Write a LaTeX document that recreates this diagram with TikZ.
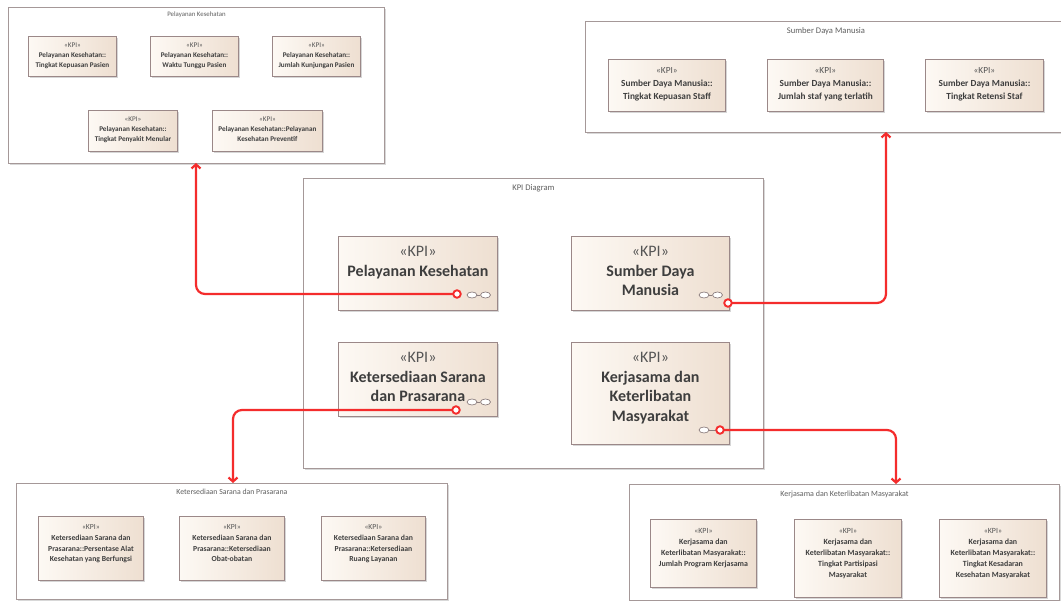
\documentclass[tikz,border=0pt]{standalone}
\usepackage{fontspec}
\setmainfont{Carlito}
\usetikzlibrary{shadows,arrows.meta,shapes.geometric}

\definecolor{framecol}{RGB}{165,152,152}
\definecolor{boxcol}{RGB}{155,136,136}
\definecolor{boxlight}{RGB}{253,249,244}
\definecolor{boxdark}{RGB}{238,223,209}
\definecolor{linkred}{RGB}{244,44,44}
\definecolor{titlegray}{RGB}{95,95,95}
\definecolor{textdark}{RGB}{62,62,62}
\definecolor{stereogray}{RGB}{85,85,85}
\definecolor{portgray}{RGB}{140,126,126}

\newcommand{\stereo}{{\mdseries\color{stereogray}«KPI»}}

\tikzset{
  areaframe/.style={draw=framecol, line width=0.9pt, fill=white, anchor=north west,
    inner sep=0pt, drop shadow={shadow xshift=1.5pt, shadow yshift=-1.5pt, fill=black!30, opacity=.5}},
  areatitle/.style={inner sep=0pt, text=titlegray},
  kbox/.style={draw=boxcol, line width=0.9pt, left color=boxlight, right color=boxdark,
    anchor=north west, inner sep=0pt,
    drop shadow={shadow xshift=2pt, shadow yshift=-2pt, fill=black!35, opacity=.45}},
  ktext/.style={anchor=north, inner sep=0pt, align=center, text=textdark},
  maintext/.style={ktext, yshift=-10.5pt, font=\fontsize{16}{19.5}\selectfont\bfseries},
  pktext/.style={ktext, yshift=-7pt, font=\fontsize{7.2}{9.7}\selectfont\bfseries},
  sdmtext/.style={ktext, yshift=-8pt, font=\fontsize{9.3}{13}\selectfont\bfseries},
  ksptext/.style={ktext, yshift=-8.5pt, font=\fontsize{7.7}{10.7}\selectfont\bfseries},
  kkmtext/.style={ktext, yshift=-9pt, font=\fontsize{7.9}{11}\selectfont\bfseries},
  portring/.style={ellipse, draw=portgray, line width=0.7pt, fill=white,
    minimum width=10pt, minimum height=6pt, inner sep=0pt},
  redport/.style={circle, draw=linkred, line width=1.9pt, fill=white,
    minimum size=7.5pt, inner sep=0pt},
  link/.style={draw=linkred, line width=2.2pt, rounded corners=9pt,
    -{Straight Barb[length=4pt, width=9pt]}},
}

% area frame: name, x0, y0, x1, y1, title, title size, title offset
\newcommand{\Area}[8]{%
  \node[areaframe, minimum width={(#4-#2)*1pt}, minimum height={(#5-#3)*1pt}] (#1) at (#2,#3) {};
  \node[areatitle, font=\fontsize{#7}{#7}\selectfont] (#1-title) at ([yshift=-#8pt]#1.north) {#6};
}
% KPI element: name, x0, y0, x1, y1, text style, text
\newcommand{\Kpi}[7]{%
  \node[kbox, minimum width={(#4-#2)*1pt}, minimum height={(#5-#3)*1pt}] (#1) at (#2,#3) {};
  \node[#6] (#1-t) at (#1.north) {#7};
}

\begin{document}
\begin{tikzpicture}[x=1pt, y=-1pt]
  \useasboundingbox (0,0) rectangle (1061,601);
  \fill[white] (0,0) rectangle (1061,601);
  \clip (0,0) rectangle (1061,601);

  % package frames
  \Area{pkArea}{8}{7}{384}{163}{Pelayanan Kesehatan}{6.8}{8}
  \Area{sdmArea}{585}{21}{1066}{132}{Sumber Daya Manusia}{8.6}{10}
  \Area{kpiArea}{303}{178}{763}{468}{KPI Diagram}{8.6}{10}
  \Area{kspArea}{16}{483}{447}{599}{Ketersediaan Sarana dan Prasarana}{7.8}{9}
  \Area{kkmArea}{629}{484}{1059}{600}{Kerjasama dan Keterlibatan Masyarakat}{8}{10}

  % Pelayanan Kesehatan
  \Kpi{pk1}{28}{36}{116}{76}{pktext}{\stereo\\Pelayanan Kesehatan::\\Tingkat Kepuasan Pasien}
  \Kpi{pk2}{150}{36}{238}{76}{pktext}{\stereo\\Pelayanan Kesehatan::\\Waktu Tunggu Pasien}
  \Kpi{pk3}{272}{36}{360}{76}{pktext}{\stereo\\Pelayanan Kesehatan::\\Jumlah Kunjungan Pasien}
  \Kpi{pk4}{88}{110}{177}{151}{pktext}{\stereo\\Pelayanan Kesehatan::\\Tingkat Penyakit Menular}
  \Kpi{pk5}{212}{110}{322}{151}{pktext}{\stereo\\Pelayanan Kesehatan::Pelayanan\\Kesehatan Preventif}

  % Sumber Daya Manusia
  \Kpi{sdm1}{608}{59}{725}{111}{sdmtext}{\stereo\\Sumber Daya Manusia::\\Tingkat Kepuasan Staff}
  \Kpi{sdm2}{767}{59}{883}{111}{sdmtext}{\stereo\\Sumber Daya Manusia::\\Jumlah staf yang terlatih}
  \Kpi{sdm3}{925}{59}{1043}{111}{sdmtext}{\stereo\\Sumber Daya Manusia::\\Tingkat Retensi Staf}

  % Ketersediaan Sarana dan Prasarana
  \Kpi{ksp1}{38}{516}{143}{580}{ksptext}{\stereo\\Ketersediaan Sarana dan\\Prasarana::Persentase Alat\\Kesehatan yang Berfungsi}
  \Kpi{ksp2}{179}{516}{284}{580}{ksptext}{\stereo\\Ketersediaan Sarana dan\\Prasarana::Ketersediaan\\Obat-obatan}
  \Kpi{ksp3}{321}{516}{425}{580}{ksptext}{\stereo\\Ketersediaan Sarana dan\\Prasarana::Ketersediaan\\Ruang Layanan}

  % Kerjasama dan Keterlibatan Masyarakat
  \Kpi{kkm1}{650}{519}{756}{587}{kkmtext}{\stereo\\Kerjasama dan\\Keterlibatan Masyarakat::\\Jumlah Program Kerjasama}
  \Kpi{kkm2}{794}{519}{901}{597}{kkmtext}{\stereo\\Kerjasama dan\\Keterlibatan Masyarakat::\\Tingkat Partisipasi\\Masyarakat}
  \Kpi{kkm3}{939}{519}{1046}{597}{kkmtext}{\stereo\\Kerjasama dan\\Keterlibatan Masyarakat::\\Tingkat Kesadaran\\Kesehatan Masyarakat}

  % KPI Diagram: top level elements
  \Kpi{pk}{338}{236}{497}{310}{maintext}{\stereo\\Pelayanan Kesehatan}
  \Kpi{sdm}{571}{236}{729}{310}{maintext}{\stereo\\Sumber Daya\\Manusia}
  \Kpi{ksp}{338}{342}{497}{416}{maintext}{\stereo\\Ketersediaan Sarana\\dan Prasarana}
  \Kpi{kkm}{571}{342}{729}{444}{maintext}{\stereo\\Kerjasama dan\\Keterlibatan\\Masyarakat}

  % composite markers
  \node[portring] (pk-r1) at (472,295) {};
  \node[portring] (pk-r2) at (485.5,295) {};
  \draw[portgray, line width=0.7pt] (pk-r1.east) -- (pk-r2.west);
  \node[portring] (sdm-r1) at (704,295) {};
  \node[portring] (sdm-r2) at (717.5,295) {};
  \draw[portgray, line width=0.7pt] (sdm-r1.east) -- (sdm-r2.west);
  \node[portring] (ksp-r1) at (472,402) {};
  \node[portring] (ksp-r2) at (485.5,402) {};
  \draw[portgray, line width=0.7pt] (ksp-r1.east) -- (ksp-r2.west);
  \node[portring] (kkm-r1) at (704,430) {};

  % link end points on the frames
  \coordinate (pkin) at (196,163);
  \coordinate (sdmin) at (886,132);
  \coordinate (kspin) at (233,483);
  \coordinate (kkmin) at (896,484);

  % links
  \draw[link] (457,294) coordinate (pkstart) -| (pkin);
  \draw[link] (728,303) coordinate (sdmstart) -| (sdmin);
  \draw[link] (456,410) coordinate (kspstart) -| (kspin);
  \draw[portgray, line width=0.7pt] (kkm-r1.east) -- (716,430);
  \draw[link] (720,430) coordinate (kkmstart) -| (kkmin);

  % red link ports
  \node[redport] (pkport) at (pkstart) {};
  \node[redport] (sdmport) at (sdmstart) {};
  \node[redport] (kspport) at (kspstart) {};
  \node[redport] (kkmport) at (kkmstart) {};
\end{tikzpicture}
\end{document}
